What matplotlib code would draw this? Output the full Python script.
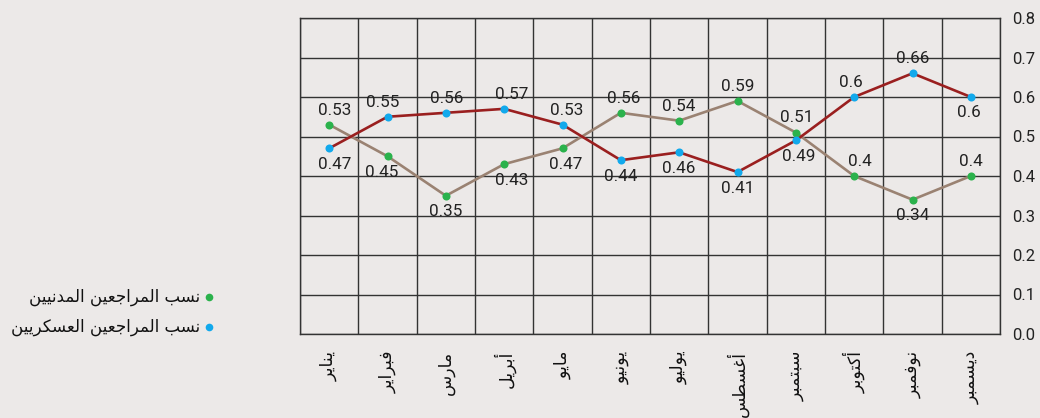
import numpy as np
import matplotlib
matplotlib.use("Agg")
import matplotlib.pyplot as plt
from matplotlib.lines import Line2D

# ---- data -------------------------------------------------------------
months = ["يناير", "فبراير", "مارس", "أبريل", "مايو", "يونيو",
          "يوليو", "أغسطس", "سبتمبر", "أكتوبر", "نوفمبر", "ديسمبر"]
civilian = [0.53, 0.45, 0.35, 0.43, 0.47, 0.56, 0.54, 0.59, 0.51, 0.40, 0.34, 0.40]
military = [0.47, 0.55, 0.56, 0.57, 0.53, 0.44, 0.46, 0.41, 0.49, 0.60, 0.66, 0.60]
civilian_name = "نسب المراجعين المدنيين"
military_name = "نسب المراجعين العسكريين"
y_ticks = [0.0, 0.1, 0.2, 0.3, 0.4, 0.5, 0.6, 0.7, 0.8]

# label placement: +1 above the point, -1 below; dx is a small sideways nudge (px)
civilian_side = [1, -1, -1, -1, -1, 1, 1, 1, 1, 1, -1, 1]
military_side = [-1, 1, 1, 1, 1, -1, -1, -1, -1, 1, 1, -1]
civilian_dx = [6, -6, 0, 8, 3, 3, 0, 0, 1, 6, 0, 0]
military_dx = [6, -5, 1, 8, 4, 0, 0, 0, 3, -3, 0, -2]

# ---- simple Arabic shaping (contextual presentation forms, visual order) ----
_DUAL = {"ب": 0xFE8F, "ت": 0xFE95, "ج": 0xFE9D, "س": 0xFEB1, "ط": 0xFEC1,
         "ع": 0xFEC9, "غ": 0xFECD, "ف": 0xFED1, "ك": 0xFED9, "ل": 0xFEDD,
         "م": 0xFEE1, "ن": 0xFEE5, "ي": 0xFEF1}
_RIGHT = {"ا": 0xFE8D, "أ": 0xFE83, "د": 0xFEA9, "ر": 0xFEAD, "و": 0xFEED}


def shape_arabic(text):
    out = []
    n = len(text)
    for i, ch in enumerate(text):
        prev_c = text[i - 1] if i > 0 else ""
        next_c = text[i + 1] if i < n - 1 else ""
        joins_prev = prev_c in _DUAL
        if ch in _DUAL:
            joins_next = next_c in _DUAL or next_c in _RIGHT
            if joins_prev and joins_next:
                off = 3
            elif joins_prev:
                off = 1
            elif joins_next:
                off = 2
            else:
                off = 0
            out.append(chr(_DUAL[ch] + off))
        elif ch in _RIGHT:
            out.append(chr(_RIGHT[ch] + (1 if joins_prev else 0)))
        else:
            out.append(ch)
    return "".join(out)[::-1]


# ---- styling ----------------------------------------------------------
bg = "#ECE9E8"
grid_c = "#333333"
green = "#2BB24C"
blue = "#12A9EC"
red_line = "#9A1F1F"
tan_line = "#9A8272"
num_font = ["Roboto", "DejaVu Sans"]
ar_font = ["DejaVu Sans"]

fig = plt.figure(figsize=(10.4, 4.18), dpi=100, facecolor=bg)
ax = fig.add_axes([300 / 1040, 1 - 334 / 418, 700 / 1040, 316 / 418])
ax.set_facecolor(bg)

x = np.arange(len(months))

ax.set_xlim(-0.5, len(months) - 0.5)
ax.set_ylim(0, 0.8)

# grid: horizontal at every tick, vertical between months
ax.set_yticks(y_ticks)
ax.set_yticklabels([f"{v:.1f}" for v in y_ticks], fontfamily=num_font,
                   fontsize=12, color="#222222")
ax.yaxis.tick_right()
ax.tick_params(axis="y", length=0, pad=9)
ax.set_xticks(x)
ax.set_xticklabels([shape_arabic(m) for m in months], rotation=90,
                   fontfamily=ar_font, fontsize=12.5, color="#111111",
                   va="top", ha="center")
ax.tick_params(axis="x", length=0, pad=12)
ax.set_xticks(np.arange(-0.5, len(months)), minor=True)
ax.tick_params(axis="x", which="minor", length=0)
ax.grid(axis="y", which="major", color=grid_c, linewidth=1.0)
ax.grid(axis="x", which="minor", color=grid_c, linewidth=1.0)
for s in ax.spines.values():
    s.set_color(grid_c)
    s.set_linewidth(1.0)

# lines
ax.plot(x, civilian, color=tan_line, linewidth=1.9, zorder=3, solid_capstyle="round")
ax.plot(x, military, color=red_line, linewidth=1.9, zorder=3, solid_capstyle="round")
# markers
ax.plot(x, civilian, linestyle="none", marker="o", markersize=5.8,
        color=green, markeredgewidth=0, zorder=4)
ax.plot(x, military, linestyle="none", marker="o", markersize=5.8,
        color=blue, markeredgewidth=0, zorder=5)


def fmt(v):
    return f"{v:.2f}".rstrip("0")


for xs, vals, sides, dxs in ((x, civilian, civilian_side, civilian_dx),
                             (x, military, military_side, military_dx)):
    for xi, v, sd, dx in zip(xs, vals, sides, dxs):
        dy = 10.5 if sd > 0 else -11.5
        ax.annotate(fmt(v), (xi, v), xytext=(dx * 0.72, dy),
                    textcoords="offset points", ha="center", va="center",
                    fontsize=12.3, fontfamily=num_font, color="#222222",
                    zorder=6)

# legend at the left, dot to the right of each entry
for yy, name, col in ((297, civilian_name, green), (327, military_name, blue)):
    yf = 1 - yy / 418
    fig.add_artist(Line2D([209 / 1040], [yf], marker="o", markersize=5.5,
                          color=col, markeredgewidth=0,
                          transform=fig.transFigure))
    fig.text(200 / 1040, yf, shape_arabic(name), ha="right", va="center",
             fontfamily=ar_font, fontsize=12, color="#111111")

fig.savefig("out.png", dpi=100, facecolor=bg)
